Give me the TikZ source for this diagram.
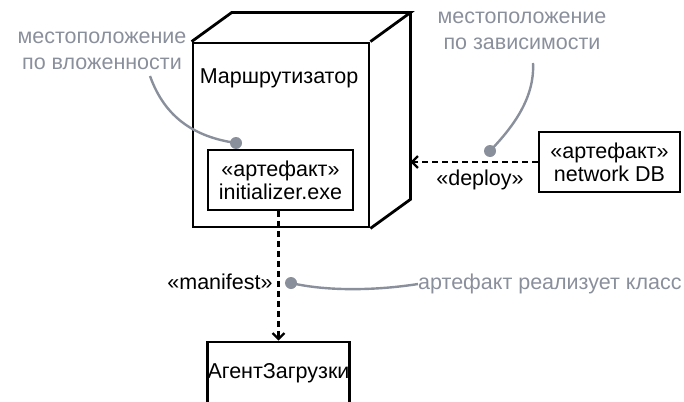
\documentclass[tikz,border=0pt]{standalone}
\usepackage{fontspec}
\setmainfont{Liberation Sans}
\usetikzlibrary{arrows.meta}
\definecolor{anngray}{HTML}{8A8F9C}
\tikzset{
  blk/.style={draw=black, line width=2.8pt},
  box/.style={blk, rectangle, inner sep=0pt, align=center, font=\fontsize{21.5}{23}\selectfont},
  dep/.style={line width=2.6pt, dash pattern=on 6pt off 4pt, -{Straight Barb[length=6pt,width=12pt,line width=2.2pt]}},
  ann/.style={text=anngray, align=center, font=\fontsize{21.5}{26}\selectfont},
  anncurve/.style={draw=anngray, line width=2.4pt},
  anndot/.style={fill=anngray, circle, minimum size=12pt, inner sep=0pt},
  lbl/.style={font=\fontsize{21.5}{23}\selectfont, inner sep=0pt}
}
\begin{document}
\begin{tikzpicture}[x=1pt,y=-1pt]
\useasboundingbox (0,0) rectangle (684,401);
% cube
\node[box, minimum width=176pt, minimum height=184pt] (router) at (281,135) {};
\coordinate (bTL) at ([shift={(40,-29)}]router.north west);
\coordinate (bTR) at ([shift={(40,-29)}]router.north east);
\coordinate (bBR) at ([shift={(40,-29)}]router.south east);
\draw[blk, line join=miter] (router.north west) -- (bTL) -- (bTR) -- (router.north east);
\draw[blk, line join=miter] (bTR) -- (bBR) -- (router.south east);
\node[lbl] (rname) at (279,78) {Маршрутизатор};
% artifacts
\node[box, minimum width=145pt, minimum height=60pt] (art1) at (280.5,180) {«артефакт»\\initializer.exe};
\node[box, minimum width=141pt, minimum height=60pt] (netdb) at (609.5,162) {«артефакт»\\network DB};
\node[box, minimum width=141pt, minimum height=62pt] (agent) at (278.5,373) {АгентЗагрузки};
% dependencies
\draw[dep] (netdb.west) -- (netdb.west -| bBR);
\node[lbl] (deploy) at (480,180) {«deploy»};
\draw[dep] (art1.south -| agent.north) -- (agent.north);
\node[lbl] (manifest) at (220,282) {«manifest»};
% annotations
\node[ann] (ann1) at (102,51) {местоположение\\по вложенности};
\node[ann] (ann2) at (522,31) {местоположение\\по зависимости};
\node[ann, anchor=west, inner sep=0pt] (ann3) at (418,284) {артефакт реализует класс};
\node[anndot] (d1) at (236,143) {};
\node[anndot] (d2) at (490,151) {};
\node[anndot] (d3) at (291,283) {};
\draw[anncurve] (150,76) .. controls (165,118) and (195,137) .. (d1.center);
\draw[anncurve] (533,63) .. controls (535,100) and (510,130) .. (d2.center);
\draw[anncurve] (d3.center) .. controls (330,292) and (380,290) .. (ann3.west);
\end{tikzpicture}
\end{document}
